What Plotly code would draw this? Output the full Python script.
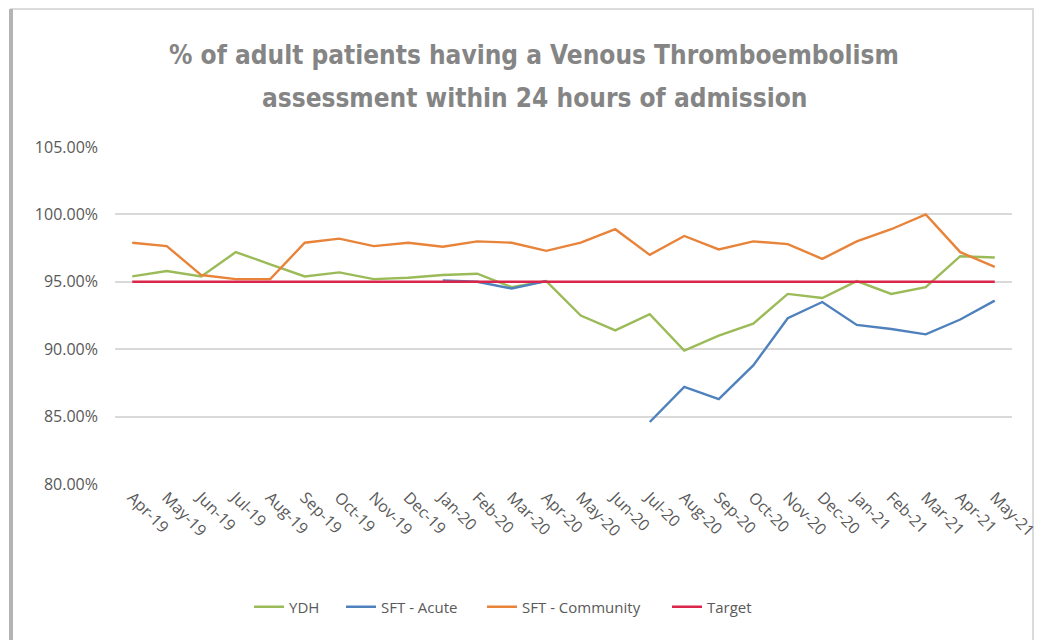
import plotly.graph_objects as go

months = ["Apr-19","May-19","Jun-19","Jul-19","Aug-19","Sep-19","Oct-19","Nov-19","Dec-19",
          "Jan-20","Feb-20","Mar-20","Apr-20","May-20","Jun-20","Jul-20","Aug-20","Sep-20",
          "Oct-20","Nov-20","Dec-20","Jan-21","Feb-21","Mar-21","Apr-21","May-21"]

ydh = [95.4, 95.8, 95.4, 97.2, 96.3, 95.4, 95.7, 95.2, 95.3, 95.5, 95.6, 94.6, 95.05,
       92.5, 91.4, 92.6, 89.9, 91.0, 91.9, 94.1, 93.8, 95.05, 94.1, 94.6, 96.9, 96.8]
sft_acute = [None, None, None, None, None, None, None, None, None, 95.1, 95.0, 94.5, 95.05,
             None, None, 84.6, 87.2, 86.3, 88.8, 92.3, 93.5, 91.8, 91.5, 91.1, 92.2, 93.6]
sft_comm = [97.9, 97.65, 95.5, 95.2, 95.2, 97.9, 98.2, 97.65, 97.9, 97.6, 98.0, 97.9, 97.3,
            97.9, 98.9, 97.0, 98.4, 97.4, 98.0, 97.8, 96.7, 98.0, 98.9, 100.0, 97.2, 96.1]
target = [95.0] * len(months)

title_lines = ["% of adult patients having a Venous Thromboembolism",
               "assessment within 24 hours of admission"]

series = [
    ("YDH", ydh, "#9bbb59"),
    ("SFT - Acute", sft_acute, "#4f81bd"),
    ("SFT - Community", sft_comm, "#e8833a"),
    ("Target", target, "#d9264a"),
]
# reference x (px) where each legend entry's line sample starts
legend_starts = [255, 347, 488, 673]

title_font = "DejaVu Sans Condensed, Open Sans, Arial"
tick_font = "Open Sans, Arial"

# page body has an 8px margin: work in reference pixel coords, shift by OFF
OFF = 8
W, H = 1042 - OFF, 640 - OFF
L, R, T, B = 115 - OFF, 30, 147 - OFF, 156
pw, ph = W - L - R, H - T - B

def px(x):  # reference pixel -> paper x
    return (x - OFF - L) / pw

def py(y):  # reference pixel -> paper y
    return (H - B - (y - OFF)) / ph

fig = go.Figure()
legends = {}
for i, (name, vals, color) in enumerate(series):
    lg = "legend" if i == 0 else f"legend{i + 1}"
    fig.add_trace(go.Scatter(
        x=months,
        y=[v / 100 if v is not None else None for v in vals],
        mode="lines", name=name, legend=lg,
        line=dict(color=color, width=2.4),
        connectgaps=False,
    ))
    legends[lg] = dict(
        orientation="h",
        x=(legend_starts[i] - 6 - OFF) / W, xref="container", xanchor="left",
        y=1 - (607 - OFF) / H, yref="container", yanchor="middle",
        font=dict(family=tick_font, size=15, color="#595959"),
        itemwidth=30, bgcolor="rgba(0,0,0,0)",
    )

fig.update_layout(
    width=W, height=H,
    paper_bgcolor="white", plot_bgcolor="white",
    margin=dict(l=L, r=R, t=T, b=B, autoexpand=False),
    xaxis=dict(
        type="category", range=[-0.5, 25.5],
        showgrid=False, showline=False, zeroline=False,
        tickangle=45, ticks="", automargin=False,
        tickfont=dict(family=tick_font, size=16, color="#595959"),
    ),
    yaxis=dict(
        range=[0.80, 1.05], dtick=0.05, tick0=0.80,
        tickformat=".2%", automargin=False,
        showgrid=True, gridcolor="#d9d9d9", gridwidth=2,
        zeroline=False, showline=False, ticks="",
        ticklabelstandoff=16,
        tickfont=dict(family=tick_font, size=16, color="#595959"),
    ),
    showlegend=True,
    **legends,
)

for line, yref_px in zip(title_lines, [55, 98]):
    fig.add_annotation(
        text="<b>" + line + "</b>", showarrow=False,
        xref="paper", yref="paper", x=px(534), y=py(yref_px),
        xanchor="center", yanchor="middle",
        font=dict(family=title_font, size=26, color="#858585"),
    )

# chart-area frame (Excel style border)
fig.add_shape(type="rect", xref="paper", yref="paper",
              x0=px(11), x1=px(1033), y0=py(650), y1=py(9),
              line=dict(color="#d0d0d0", width=1.5), layer="below")
fig.add_shape(type="line", xref="paper", yref="paper",
              x0=px(11), x1=px(11), y0=py(650), y1=py(9),
              line=dict(color="#b4b4b4", width=4), layer="below")

fig.write_html("out.html")
